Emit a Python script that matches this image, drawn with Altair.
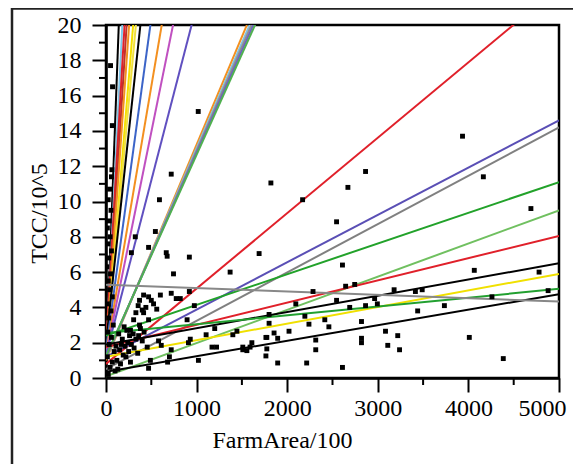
import altair as alt
import pandas as pd

# ---------------- data ----------------
pt_x = [50, 72, 70, 65, 60, 40, 25, 55, 35, 15, 45, 20, 60, 30, 10, 50, 25, 40, 70, 15, 55, 30, 80, 20, 60, 35, 90, 15, 70, 45, 100, 25,
        130, 160, 120, 190, 150, 210, 240, 180, 260, 230, 300, 330, 280, 360, 400, 200, 140, 170, 250, 310, 220, 110, 380, 420, 270, 350,
        415, 470, 525, 370, 355, 400, 415, 470, 370, 305, 270, 440, 500, 330, 560, 600, 720, 775, 820, 920, 975, 895,
        323, 280, 470, 545, 590, 720, 665, 675, 920, 745, 1370, 1018, 1690, 1820, 2170, 2670, 2865, 2545, 3935, 4165, 4690, 2610, 4065, 4780,
        1200, 1105, 930, 910, 720, 580, 610, 455, 490, 470, 1020, 1170, 1220, 1510, 1510, 1555, 1610, 1400, 1775, 1765, 1765, 1445, 680, 700,
        2645, 2745, 2285, 2545, 3180, 3415, 3490, 2095, 2965, 2690, 2865, 2995, 1800, 1800, 2195, 3440, 3735, 4260, 4880, 2240, 2415, 2460,
        2820, 2020, 1855, 1775, 1895, 3085, 3220, 3110, 3240, 2315, 2315, 2820, 2820, 1590, 1895, 2215, 2610, 4010, 4385]
pt_y = [17.7, 16.5, 14.3, 11.8, 11.4, 10.7, 10.1, 9.5, 8.9, 8.5, 8.0, 7.6, 7.2, 6.8, 6.3, 5.9, 5.5, 5.0, 4.6, 4.2, 3.8, 3.4, 3.0, 2.6, 2.3, 1.9, 1.5, 1.2, 0.9, 0.6, 0.4, 0.2,
        0.5, 0.8, 1.0, 1.3, 1.6, 1.8, 2.0, 2.2, 2.4, 2.7, 2.5, 2.2, 1.9, 2.4, 2.1, 2.9, 2.5, 1.9, 1.5, 1.7, 1.2, 1.8, 2.8, 2.6, 0.9, 1.4,
        4.7, 4.6, 4.2, 4.4, 4.1, 3.85, 3.7, 3.3, 3.0, 3.3, 2.7, 4.0, 4.4, 3.7, 3.9, 4.7, 4.8, 4.5, 4.5, 4.9, 4.1, 3.3,
        8.0, 7.1, 7.4, 8.3, 10.1, 11.55, 7.1, 6.9, 6.85, 5.9, 6.0, 15.1, 7.05, 11.05, 10.1, 10.8, 11.7, 8.85, 13.7, 11.4, 9.6, 6.4, 6.1, 6.0,
        2.8, 2.45, 2.2, 2.0, 1.6, 2.1, 1.85, 1.75, 1.0, 0.55, 1.0, 1.75, 1.75, 1.6, 1.75, 1.55, 2.0, 2.45, 1.65, 1.25, 2.3, 2.65, 0.9, 1.2,
        5.2, 5.3, 4.9, 4.4, 5.0, 4.9, 5.0, 4.2, 4.5, 4.0, 4.1, 4.2, 3.6, 3.1, 3.5, 3.8, 4.1, 4.6, 4.95, 3.05, 3.3, 2.9,
        3.2, 2.65, 2.55, 2.3, 2.25, 2.65, 2.4, 1.85, 1.6, 2.15, 1.6, 2.25, 2.0, 1.75, 0.85, 0.85, 0.6, 2.3, 1.1]

line_color = ["#000000", "#7fc6e8", "#e0202a", "#c0302a", "#f39020", "#f5e000", "#f0e040", "#000000",
              "#3c64c8", "#f39020", "#c050c0", "#6050c0",
              "#f39020", "#80c0e0", "#909090", "#7060c0", "#50b050",
              "#e0202a", "#5a4fb5", "#808080", "#22a22a", "#70c060", "#e0202a", "#000000",
              "#f0e000", "#22a030", "#000000", "#888888"]
line_b = [0.6, 1.2, 1.8, 1.4, 1.5, 1.2, 1.6, 2.0,
          1.6, 1.4, 1.3, 1.3,
          1.0, 1.1, 1.15, 1.2, 1.25,
          0.8, 1.2, 0.5, 2.4, 0.1, 1.75, 1.9,
          1.2, 2.55, 0.35, 5.28]
line_slope = [0.1376, 0.1044, 0.0888, 0.0816, 0.0725, 0.0627, 0.0558, 0.0474,
              0.03755, 0.03024, 0.02527, 0.01979,
              0.01222, 0.011924, 0.011745, 0.011569, 0.011398,
              0.00427, 0.00268, 0.00274, 0.00174, 0.00188, 0.00126, 0.00092,
              0.00094, 0.0005, 0.00088, -0.00019]

x_major = [0, 1000, 2000, 3000, 4000, 5000]
x_minor = [500, 1500, 2500, 3500, 4500]
y_major = [0, 2, 4, 6, 8, 10, 12, 14, 16, 18, 20]
y_minor = [1, 3, 5, 7, 9, 11, 13, 15, 17, 19]
X_MAX = 5000

# ---------------- layout ----------------
W, H = 453, 353
PAD = {"left": 98, "top": 17, "right": 14, "bottom": 86}
FONT = "Liberation Serif"

xs = alt.Scale(domain=[0, 5000], nice=False, zero=False)
ys = alt.Scale(domain=[0, 20], nice=False, zero=False)

pts = pd.DataFrame({"x": pt_x, "y": pt_y})
lines = pd.DataFrame({
    "x": [0] * len(line_b),
    "x2": [X_MAX] * len(line_b),
    "y": line_b,
    "y2": [b + X_MAX * s for b, s in zip(line_b, line_slope)],
    "c": line_color,
})

x_axis = alt.Axis(values=x_major, format="d", title="FarmArea/100", grid=False,
                  labelFlush=False, labelPadding=4,
                  labelOffset={"condition": {"test": "datum.value === 5000", "value": -17}, "value": 0},
                  titleX=176, titleY=69)
y_axis = alt.Axis(values=y_major, format="d", title="TCC/10^5", grid=False,
                  labelFlush=False, labelPadding=11,
                  titleX=-60, titleY=188)

pt_layer = alt.Chart(pts).mark_square(size=24, color="black", opacity=1, clip=True).encode(
    x=alt.X("x:Q", scale=xs, axis=x_axis),
    y=alt.Y("y:Q", scale=ys, axis=y_axis),
)

line_layer = alt.Chart(lines).mark_rule(strokeWidth=2, clip=True).encode(
    x=alt.X("x:Q", scale=xs, axis=x_axis),
    x2="x2:Q",
    y=alt.Y("y:Q", scale=ys, axis=y_axis),
    y2="y2:Q",
    color=alt.Color("c:N", scale=None),
)

xminor_layer = alt.Chart(pd.DataFrame({"x": x_minor})).mark_rule(color="black", strokeWidth=2).encode(
    x=alt.X("x:Q", scale=xs, axis=x_axis),
    y=alt.value(H), y2=alt.value(H + 7),
)
yminor_layer = alt.Chart(pd.DataFrame({"y": y_minor})).mark_rule(color="black", strokeWidth=2).encode(
    y=alt.Y("y:Q", scale=ys, axis=y_axis),
    x=alt.value(-7), x2=alt.value(0),
)

# outer figure border (top and left edges visible in the reference)
frame_top = alt.Chart(pd.DataFrame({"k": [0]})).mark_rule(color="#222", strokeWidth=2.5).encode(
    x=alt.value(-95), x2=alt.value(W + PAD["right"]), y=alt.value(-16.5),
)
frame_left = alt.Chart(pd.DataFrame({"k": [0]})).mark_rule(color="#222", strokeWidth=2.5).encode(
    x=alt.value(-94), y=alt.value(-17), y2=alt.value(H + PAD["bottom"]),
)

chart = alt.layer(
    line_layer, pt_layer, xminor_layer, yminor_layer, frame_top, frame_left
).properties(
    width=W, height=H,
    padding=PAD,
    autosize=alt.AutoSizeParams(type="none"),
    background="white",
).configure_view(
    stroke="black", strokeWidth=2.5
).configure_axis(
    labelFont=FONT, labelFontSize=24, labelColor="black",
    tickSize=14, tickWidth=2, tickColor="black",
    domainColor="black", domainWidth=2.5,
    titleFont=FONT, titleFontSize=24, titleFontWeight="normal", titleColor="black",
    titleAlign="center", titleBaseline="alphabetic",
).configure_axisY(titleAngle=270)

chart.save("out.html", embed_options={"renderer": "svg", "actions": False})
